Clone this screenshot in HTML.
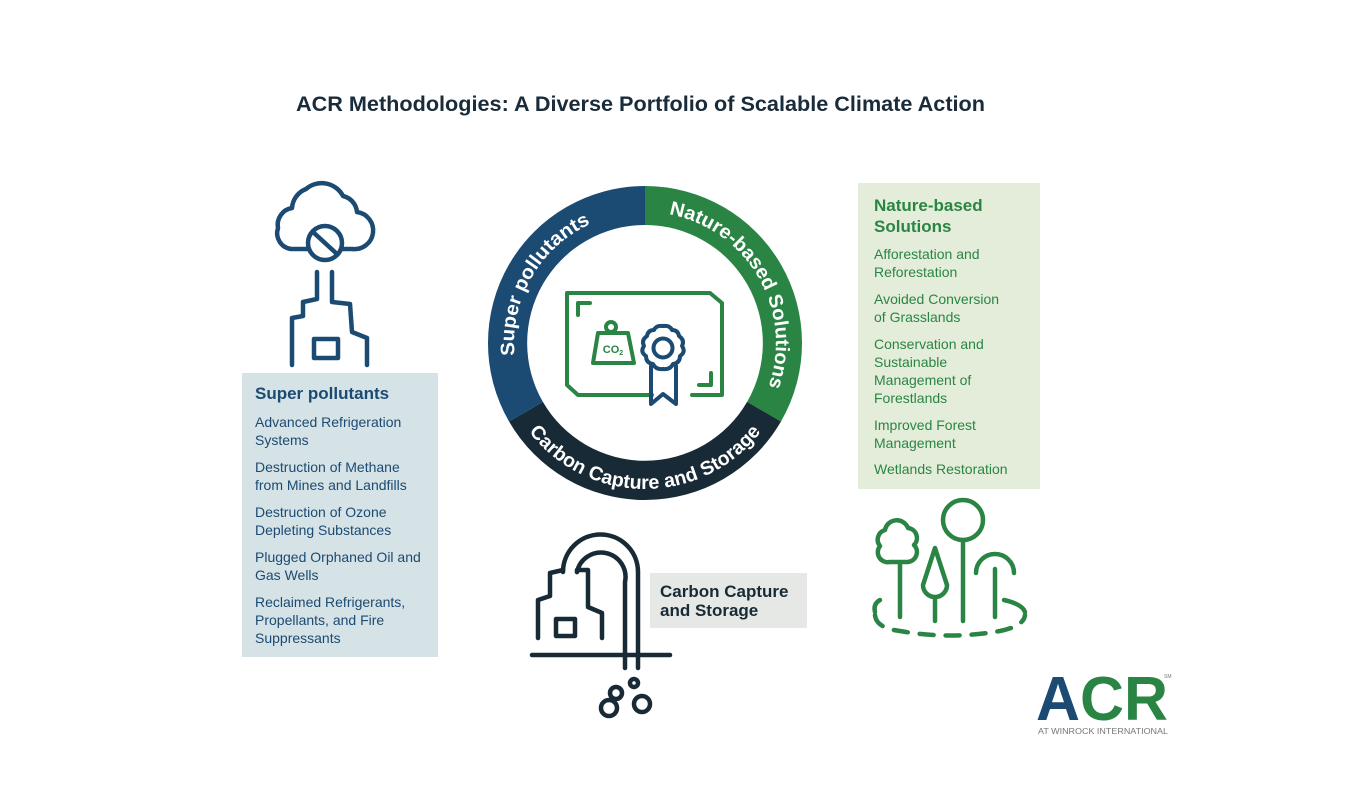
<!DOCTYPE html>
<html><head><meta charset="utf-8"><style>
html,body{margin:0;padding:0;background:#fff;}
svg{display:block;font-family:"Liberation Sans",sans-serif;}
</style></head><body>
<svg width="1350" height="800" viewBox="0 0 1350 800" xmlns="http://www.w3.org/2000/svg">
<rect width="1350" height="800" fill="#fff"/>
<text x="296" y="111" font-size="21" font-weight="bold" fill="#1a2b3a" textLength="689" lengthAdjust="spacingAndGlyphs">ACR Methodologies: A Diverse Portfolio of Scalable Climate Action</text>

<!-- Ring -->
<g transform="translate(645,343)">
  <path d="M0,-157 A157,157 0 0 1 135.97,78.5 L102.1,58.9 A118,118 0 0 0 0,-118 Z" fill="#2a8544"/>
  <path d="M135.97,78.5 A157,157 0 0 1 -135.97,78.5 L-102.1,58.9 A118,118 0 0 0 102.1,58.9 Z" fill="#182a35"/>
  <path d="M-135.97,78.5 A157,157 0 0 1 0,-157 L0,-118 A118,118 0 0 0 -102.1,58.9 Z" fill="#1b4a72"/>
</g>
<defs>
  <path id="pBlue" d="M544.7,427.2 A131,131 0 0 1 667.8,214"/>
  <path id="pGreen" d="M622.2,214 A131,131 0 0 1 745.3,427.2"/>
  <path id="pDark" d="M507.8,392.9 A146,146 0 0 0 782.2,392.9"/>
</defs>
<g font-size="19.5" font-weight="bold" fill="#fff" text-anchor="middle">
  <text><textPath href="#pBlue" startOffset="50%" textLength="162" lengthAdjust="spacingAndGlyphs">Super pollutants</textPath></text>
  <text><textPath href="#pGreen" startOffset="50%" textLength="226" lengthAdjust="spacingAndGlyphs">Nature-based Solutions</textPath></text>
  <text><textPath href="#pDark" startOffset="50%" textLength="268" lengthAdjust="spacingAndGlyphs">Carbon Capture and Storage</textPath></text>
</g>

<!-- certificate -->
<g fill="none" stroke="#2a8544" stroke-width="4" stroke-linecap="round" stroke-linejoin="round">
  <path d="M652,395 H578 L567,385 V293 H710 L722,303 V395 H692"/>
  <path d="M578,315 V303 H590"/>
  <path d="M699,385 H711 V373"/>
  <circle cx="611" cy="327" r="5"/>
  <path d="M598,333 H628 L634,363 H593 Z"/>
</g>
<text x="613" y="353" font-size="11" font-weight="bold" fill="#2a8544" text-anchor="middle">CO<tspan font-size="7" dy="2">2</tspan></text>
<g fill="none" stroke="#1b4a72" stroke-width="4" stroke-linejoin="round" stroke-linecap="round">
  <path d="M663,326 Q670,325 672,330 Q678,330 679,336 Q685,340 682,346 Q686,352 680,356 Q680,363 673,364 Q670,370 663,369 Q656,370 653,364 Q646,363 646,356 Q640,352 644,346 Q641,340 647,336 Q648,330 654,330 Q656,325 663,326 Z"/>
  <circle cx="663" cy="348" r="9.5"/>
  <path d="M651,366 V404 L663,394 L676,404 V366"/>
</g>

<!-- left icon -->
<g fill="none" stroke="#1b4a72" stroke-width="4.5" stroke-linecap="round" stroke-linejoin="round">
  <path d="M309,249 H291 A16,16 0 0 1 278,228 A17,17 0 0 1 292,208 A22,22 0 0 1 306,189 A24,24 0 0 1 343,196 A18,18 0 0 1 357,212 A18,18 0 0 1 352,249 H341"/>
  <circle cx="325" cy="243" r="17"/>
  <path d="M313,232 L337,254"/>
  <path d="M317,272 V299 L303,302 V316 L292,318 V365"/>
  <path d="M332,272 V302 L350,304 L352,332 L367,338 V365"/>
  <rect x="314" y="339" width="24" height="19"/>
</g>
<rect x="242" y="373" width="196" height="284" fill="#d6e3e6"/>
<g fill="#1b4a72">
  <text x="255" y="399" font-size="17" font-weight="bold">Super pollutants</text>
  <g font-size="14">
    <text x="255" y="427">Advanced Refrigeration</text><text x="255" y="445">Systems</text>
    <text x="255" y="472">Destruction of Methane</text><text x="255" y="490">from Mines and Landfills</text>
    <text x="255" y="517">Destruction of Ozone</text><text x="255" y="535">Depleting Substances</text>
    <text x="255" y="562">Plugged Orphaned Oil and</text><text x="255" y="580">Gas Wells</text>
    <text x="255" y="607">Reclaimed Refrigerants,</text><text x="255" y="625">Propellants, and Fire</text><text x="255" y="643">Suppressants</text>
  </g>
</g>

<!-- right box -->
<rect x="858" y="183" width="182" height="306" fill="#e4edda"/>
<g fill="#2a8544">
  <text x="874" y="211" font-size="17" font-weight="bold">Nature-based</text>
  <text x="874" y="232" font-size="17" font-weight="bold">Solutions</text>
  <g font-size="14">
    <text x="874" y="259">Afforestation and</text><text x="874" y="277">Reforestation</text>
    <text x="874" y="304">Avoided Conversion</text><text x="874" y="322">of Grasslands</text>
    <text x="874" y="349">Conservation and</text><text x="874" y="367">Sustainable</text><text x="874" y="385">Management of</text><text x="874" y="403">Forestlands</text>
    <text x="874" y="430">Improved Forest</text><text x="874" y="448">Management</text>
    <text x="874" y="474">Wetlands Restoration</text>
  </g>
</g>

<!-- trees icon -->
<g fill="none" stroke="#2a8544" stroke-width="4.5" stroke-linecap="round" stroke-linejoin="round">
  <path d="M900,617 V564 M890,562 A10,10 0 0 1 880,546 A10,10 0 0 1 885,530 A12,12 0 0 1 908,528 A10,10 0 0 1 914,545 A10,10 0 0 1 908,562 Z"/>
  <path d="M935,548 L947,585 A12,12 0 0 1 923,585 Z M935,597 V621"/>
  <circle cx="963" cy="520" r="20"/>
  <path d="M963,541 V621"/>
  <path d="M976,573 A19,19 0 0 1 1014,573 M995,569 V617"/>
  <path d="M880,600 Q873,604 875,612" />
  <path d="M1004,600 Q1022,604 1025,612"/>
  <path d="M875,615 Q876,628 900,631 Q950,640 1000,631 Q1024,626 1025,615" stroke-dasharray="14,12"/>
</g>

<!-- bottom icon -->
<g fill="none" stroke="#182a35" stroke-width="4.5" stroke-linecap="round" stroke-linejoin="round">
  <path d="M532,655 H670"/>
  <path d="M563,570 V572 A37.5,37.5 0 0 1 638,572 V668"/>
  <path d="M577,572 A24,24 0 0 1 625,582 V668"/>
  <path d="M538,638 V600 L550,596 V573 L563,570"/>
  <path d="M577,572 V570 H588 V607 L602,613 V638"/>
  <rect x="556" y="619" width="19" height="17"/>
  <circle cx="634" cy="683" r="4"/>
  <circle cx="642" cy="704" r="8"/>
  <circle cx="616" cy="693" r="6"/>
  <circle cx="609" cy="708" r="8"/>
</g>
<rect x="650" y="573" width="157" height="55" fill="#e6e8e6"/>
<text x="660" y="597" font-size="17" font-weight="bold" fill="#182a35">Carbon Capture</text>
<text x="660" y="616" font-size="17" font-weight="bold" fill="#182a35">and Storage</text>

<!-- logo -->
<text x="1036" y="720" font-size="62" font-weight="bold" textLength="132" lengthAdjust="spacingAndGlyphs"><tspan fill="#1b4a72">A</tspan><tspan fill="#2a8544">CR</tspan></text>
<text x="1164" y="678" font-size="5" fill="#777">SM</text>
<text x="1038" y="734" font-size="8" fill="#777" textLength="130" lengthAdjust="spacingAndGlyphs">AT WINROCK INTERNATIONAL</text>
</svg>
</body></html>
